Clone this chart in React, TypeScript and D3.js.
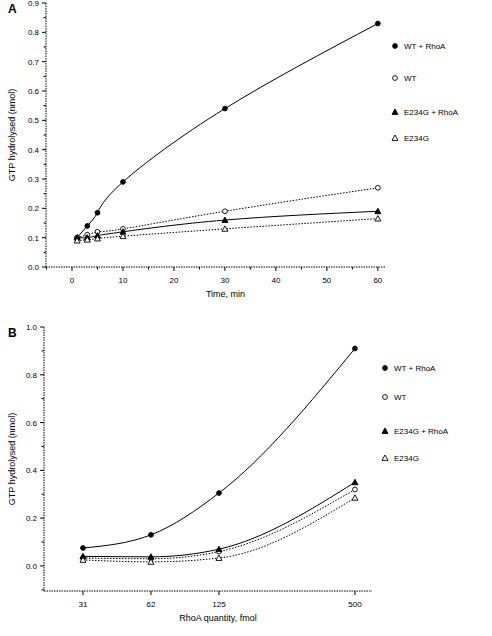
import React from "react";
import * as d3 from "d3";

// Panel A data (time course)
const timeA = [1, 3, 5, 10, 30, 60];
const wtRhoA_A = [0.1, 0.14, 0.185, 0.29, 0.54, 0.83];
const wt_A = [0.1, 0.11, 0.12, 0.13, 0.19, 0.27];
const mutRhoA_A = [0.1, 0.1, 0.107, 0.12, 0.16, 0.19];
const mut_A = [0.09, 0.093, 0.097, 0.105, 0.13, 0.165];
const xTicksA = [0, 10, 20, 30, 40, 50, 60];
const yTicksA = [0, 0.1, 0.2, 0.3, 0.4, 0.5, 0.6, 0.7, 0.8, 0.9];

// Panel B data (RhoA dose)
const rhoB = [31.25, 62.5, 125, 500];
const rhoLabelsB = ["31", "62", "125", "500"];
const wtRhoA_B = [0.075, 0.13, 0.305, 0.91];
const wt_B = [0.033, 0.03, 0.06, 0.32];
const mutRhoA_B = [0.04, 0.038, 0.07, 0.35];
const mut_B = [0.025, 0.017, 0.033, 0.285];
const yTicksB = [0, 0.2, 0.4, 0.6, 0.8, 1.0];

const seriesNames = ["WT + RhoA", "WT", "E234G + RhoA", "E234G"];
const seriesMarkers = ["circle", "circle", "triangle", "triangle"];
const seriesFilled = [true, false, true, false];
const seriesDashed = [false, true, false, true];

const FONT = "Liberation Sans, Arial, sans-serif";

function Marker({ x, y, kind, filled }: any) {
  if (kind === "circle") {
    return <circle cx={x} cy={y} r={2.4} fill={filled ? "#000" : "#fff"} stroke="#000" strokeWidth={0.9} />;
  }
  const s = 3;
  const p = `M${x},${y - s} L${x + s},${y + s * 0.8} L${x - s},${y + s * 0.8} Z`;
  return <path d={p} fill={filled ? "#000" : "#fff"} stroke="#000" strokeWidth={0.9} />;
}

function Panel({ xs, series, x, y, xTicks, xTickLabels, yTicks, xMinor, yMinor, xTitle, yTitle, letter, legendX, legendY, legendGap, curve }: any) {
  const [x0, x1] = x.range();
  const [y0, y1] = y.range();
  const line = d3.line<any>().x((d: any) => x(d[0])).y((d: any) => y(d[1])).curve(curve);
  const yMid = (y0 + y1) / 2;
  return (
    <g>
      <text x={8} y={y1 + 10} fontFamily={FONT} fontWeight="bold" fontSize={12}>{letter}</text>
      <line x1={x0} x2={x1} y1={y0} y2={y0} stroke="#000" strokeWidth={1} strokeDasharray="1.5,1" />
      <line x1={x0} x2={x0} y1={y0} y2={y1} stroke="#000" strokeWidth={1} strokeDasharray="1.5,1" />
      {xTicks.map((t: number, i: number) => (
        <g key={"xt" + i}>
          <line x1={x(t)} x2={x(t)} y1={y0} y2={y0 + 4} stroke="#000" />
          <text x={x(t)} y={y0 + 16} textAnchor="middle" fontFamily={FONT} fontSize={8}>{xTickLabels[i]}</text>
        </g>
      ))}
      {xMinor.map((t: number, i: number) => (
        <line key={"xm" + i} x1={x(t)} x2={x(t)} y1={y0} y2={y0 + 2.5} stroke="#000" />
      ))}
      {yTicks.map((t: number, i: number) => (
        <g key={"yt" + i}>
          <line x1={x0 - 4} x2={x0} y1={y(t)} y2={y(t)} stroke="#000" />
          <text x={x0 - 7} y={y(t) + 3} textAnchor="end" fontFamily={FONT} fontSize={8}>{d3.format(".1f")(t)}</text>
        </g>
      ))}
      {yMinor.map((t: number, i: number) => (
        <line key={"ym" + i} x1={x0 - 2.5} x2={x0} y1={y(t)} y2={y(t)} stroke="#000" />
      ))}
      <text x={(x0 + x1) / 2 + 10} y={y0 + 30} textAnchor="middle" fontFamily={FONT} fontSize={9}>{xTitle}</text>
      <text transform={`translate(15,${yMid}) rotate(-90)`} textAnchor="middle" fontFamily={FONT} fontSize={9}>{yTitle}</text>
      {series.map((vals: number[], si: number) => {
        const pts = xs.map((xx: number, i: number) => [xx, vals[i]]);
        return (
          <g key={"s" + si}>
            <path d={line(pts) || ""} fill="none" stroke="#000" strokeWidth={1} strokeDasharray={seriesDashed[si] ? "1.5,1.5" : undefined} />
            {pts.map((p: number[], i: number) => (
              <Marker key={i} x={x(p[0])} y={y(p[1])} kind={seriesMarkers[si]} filled={seriesFilled[si]} />
            ))}
          </g>
        );
      })}
      {seriesNames.map((n, i) => {
        const ly = legendY + legendGap[i];
        return (
          <g key={"lg" + i}>
            <Marker x={legendX} y={ly} kind={seriesMarkers[i]} filled={seriesFilled[i]} />
            <text x={legendX + 9} y={ly + 3} fontFamily={FONT} fontSize={8}>{n}</text>
          </g>
        );
      })}
    </g>
  );
}

export default function App() {
  const xA = d3.scaleLinear().domain([-5.1, 61.4]).range([46, 385]);
  const yA = d3.scaleLinear().domain([0, 0.9]).range([267, 3]);
  const xB = d3.scaleLog().base(2).domain([21, 595]).range([44, 372]);
  const yB = d3.scaleLinear().domain([-0.105, 1.0]).range([591, 327]);
  const xMinorA = [-5, 5, 15, 25, 35, 45, 55];
  const yMinorA = [0.05, 0.15, 0.25, 0.35, 0.45, 0.55, 0.65, 0.75, 0.85];
  const yMinorB = [-0.1, 0.1, 0.3, 0.5, 0.7, 0.9];
  return (
    <svg width={492} height={636} style={{ position: "absolute", left: 0, top: 0, background: "#fff" }}>
      <rect width={492} height={636} fill="#fff" />
      <Panel
        xs={timeA}
        series={[wtRhoA_A, wt_A, mutRhoA_A, mut_A]}
        x={xA}
        y={yA}
        xTicks={xTicksA}
        xTickLabels={xTicksA.map(String)}
        yTicks={yTicksA}
        xMinor={xMinorA}
        yMinor={yMinorA}
        xTitle="Time, min"
        yTitle="GTP hydrolysed (nmol)"
        letter="A"
        legendX={395}
        legendY={46}
        legendGap={[0, 32, 66, 92]}
        curve={d3.curveNatural}
      />
      <Panel
        xs={rhoB}
        series={[wtRhoA_B, wt_B, mutRhoA_B, mut_B]}
        x={xB}
        y={yB}
        xTicks={rhoB}
        xTickLabels={rhoLabelsB}
        yTicks={yTicksB}
        xMinor={[]}
        yMinor={yMinorB}
        xTitle="RhoA quantity, fmol"
        yTitle="GTP hydrolysed (nmol)"
        letter="B"
        legendX={385}
        legendY={368}
        legendGap={[0, 29, 63, 90]}
        curve={d3.curveMonotoneX}
      />
    </svg>
  );
}
